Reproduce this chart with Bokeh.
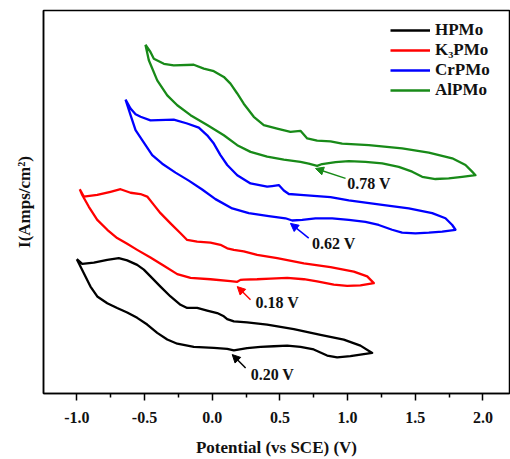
from bokeh.plotting import figure
from bokeh.models import Range1d, FixedTicker, NumeralTickFormatter, Arrow, NormalHead, ColumnDataSource
from bokeh.core.properties import value
from bokeh.embed import file_html
from bokeh.resources import INLINE

# ---------------- data (potential V vs SCE, current a.u.) ----------------
hpmo_fwd_v = [-1.00, -0.960, -0.874, -0.775, -0.690, -0.628, -0.554, -0.505, -0.456, -0.382, -0.308,
              -0.234, -0.185, -0.111, -0.037, 0.037, 0.086, 0.111, 0.160, 0.258, 0.406, 0.603, 0.800,
              0.972, 1.095, 1.182]
hpmo_fwd_i = [4.21, 4.06, 4.10, 4.19, 4.24, 4.17, 4.03, 3.88, 3.67, 3.35, 3.04, 2.78, 2.68, 2.68, 2.60,
              2.52, 2.42, 2.33, 2.26, 2.23, 2.16, 2.02, 1.84, 1.69, 1.50, 1.27]
hpmo_rev_v = [1.095, 1.021, 0.923, 0.849, 0.750, 0.652, 0.554, 0.455, 0.357, 0.258, 0.160, 0.111, 0.012,
              -0.136, -0.258, -0.332, -0.406, -0.480, -0.554, -0.628, -0.702, -0.775, -0.849, -0.899,
              -0.948, -0.985, -1.00]
hpmo_rev_i = [1.22, 1.17, 1.13, 1.19, 1.38, 1.46, 1.50, 1.48, 1.46, 1.42, 1.35, 1.40, 1.43, 1.46, 1.56,
              1.69, 1.90, 2.16, 2.37, 2.54, 2.68, 2.83, 3.04, 3.35, 3.77, 4.08, 4.21]

k3pmo_fwd_v = [-0.978, -0.948, -0.849, -0.751, -0.677, -0.603, -0.530, -0.480, -0.431, -0.382, -0.308,
               -0.234, -0.185, -0.111, -0.013, 0.061, 0.111, 0.160, 0.233, 0.332, 0.480, 0.677, 0.874,
               1.046, 1.145, 1.194]
k3pmo_fwd_i = [6.40, 6.17, 6.22, 6.32, 6.40, 6.29, 6.25, 6.17, 5.91, 5.65, 5.33, 5.02, 4.81, 4.76, 4.73,
               4.66, 4.55, 4.50, 4.45, 4.34, 4.24, 4.08, 3.96, 3.82, 3.67, 3.46]
k3pmo_rev_v = [1.095, 0.997, 0.898, 0.775, 0.677, 0.554, 0.431, 0.332, 0.233, 0.209, 0.185, 0.135,
               -0.013, -0.160, -0.258, -0.357, -0.456, -0.554, -0.628, -0.702, -0.775, -0.849, -0.911,
               -0.960, -0.978]
k3pmo_rev_i = [3.39, 3.37, 3.41, 3.51, 3.58, 3.62, 3.60, 3.58, 3.57, 3.56, 3.50, 3.52, 3.58, 3.62, 3.74,
               4.00, 4.26, 4.50, 4.69, 4.87, 5.13, 5.44, 5.85, 6.22, 6.40]

crpmo_fwd_v = [-0.640, -0.603, -0.566, -0.529, -0.456, -0.284, -0.185, -0.099, -0.037, 0.012, 0.061,
               0.111, 0.185, 0.283, 0.406, 0.443, 0.492, 0.529, 0.566, 0.652, 0.874, 1.009, 1.256,
               1.452, 1.625, 1.723, 1.773, 1.797]
crpmo_fwd_i = [9.21, 8.93, 8.75, 8.67, 8.56, 8.58, 8.46, 8.33, 8.09, 7.83, 7.47, 7.16, 6.84, 6.58, 6.48,
               6.50, 6.53, 6.36, 6.25, 6.22, 6.15, 6.05, 5.91, 5.80, 5.65, 5.49, 5.28, 5.13]
crpmo_rev_v = [1.699, 1.600, 1.501, 1.403, 1.329, 1.230, 1.132, 1.009, 0.886, 0.763, 0.665, 0.591, 0.541,
               0.418, 0.270, 0.148, 0.024, -0.074, -0.173, -0.271, -0.369, -0.443, -0.517, -0.566,
               -0.603, -0.640]
crpmo_rev_i = [5.07, 5.04, 5.02, 5.04, 5.13, 5.28, 5.38, 5.44, 5.49, 5.49, 5.44, 5.42, 5.49, 5.56, 5.65,
               5.80, 6.09, 6.39, 6.67, 6.92, 7.20, 7.47, 7.94, 8.25, 8.72, 9.21]

alpmo_fwd_v = [-0.493, -0.456, -0.431, -0.357, -0.284, -0.136, -0.062, 0.012, 0.086, 0.135, 0.185,
               0.233, 0.307, 0.381, 0.480, 0.578, 0.652, 0.702, 0.775, 0.874, 0.960, 1.157, 1.403,
               1.600, 1.773, 1.871, 1.920, 1.945]
alpmo_fwd_i = [10.93, 10.70, 10.49, 10.33, 10.28, 10.30, 10.18, 10.10, 9.92, 9.71, 9.40, 9.08, 8.67,
               8.41, 8.30, 8.20, 8.23, 7.99, 7.92, 7.90, 7.83, 7.78, 7.68, 7.55, 7.37, 7.16, 6.95, 6.84]
alpmo_rev_v = [1.846, 1.747, 1.649, 1.551, 1.477, 1.378, 1.256, 1.132, 1.009, 0.911, 0.812, 0.775, 0.713,
               0.652, 0.529, 0.406, 0.283, 0.185, 0.086, -0.037, -0.160, -0.258, -0.332, -0.406,
               -0.468, -0.493]
alpmo_rev_i = [6.79, 6.74, 6.72, 6.79, 6.95, 7.10, 7.21, 7.26, 7.28, 7.25, 7.19, 7.13, 7.20, 7.26, 7.33,
               7.42, 7.57, 7.78, 8.09, 8.41, 8.72, 9.03, 9.34, 9.81, 10.44, 10.93]

series_names = ["HPMo", "K\u2083PMo", "CrPMo", "AlPMo"]
series_colors = ["#000000", "#ff0000", "#0000ff", "#188a18"]

# annotations: peak labels, arrow tail and head
ann_labels = ["0.20 V", "0.18 V", "0.62 V", "0.78 V"]
ann_text_v = [0.284, 0.32, 0.738, 0.997]
ann_text_i = [0.59, 2.84, 4.69, 6.59]
ann_tail_v = [0.247, 0.283, 0.713, 0.985]
ann_tail_i = [0.80, 2.94, 4.87, 6.74]
ann_head_v = [0.148, 0.185, 0.578, 0.763]
ann_head_i = [1.22, 3.35, 5.33, 7.05]

x_ticks = [-1.0, -0.5, 0.0, 0.5, 1.0, 1.5, 2.0]
x_minor = [-0.75, -0.25, 0.25, 0.75, 1.25, 1.75]

FONT = "Liberation Serif"

p = figure(width=510, height=459, output_backend="svg", toolbar_location=None,
           x_range=Range1d(-1.246, 2.196), y_range=Range1d(0, 12),
           min_border_left=43, min_border_right=1, min_border_top=10, min_border_bottom=65)
p.background_fill_color = "white"
p.border_fill_color = "white"
p.xgrid.visible = False
p.ygrid.visible = False
p.outline_line_color = "black"
p.outline_line_width = 1.5

loops = [
    (hpmo_fwd_v, hpmo_fwd_i, hpmo_rev_v, hpmo_rev_i),
    (k3pmo_fwd_v, k3pmo_fwd_i, k3pmo_rev_v, k3pmo_rev_i),
    (crpmo_fwd_v, crpmo_fwd_i, crpmo_rev_v, crpmo_rev_i),
    (alpmo_fwd_v, alpmo_fwd_i, alpmo_rev_v, alpmo_rev_i),
]
for (fv, fi, rv, ri), name, col in zip(loops, series_names, series_colors):
    p.line(fv + rv, fi + ri, line_color=col, line_width=2.3, line_join="round", legend_label=name)

# annotations
for lab, tv, ti, xv, xi, hv, hi, col in zip(ann_labels, ann_text_v, ann_text_i, ann_tail_v, ann_tail_i,
                                            ann_head_v, ann_head_i, series_colors):
    p.add_layout(Arrow(end=NormalHead(size=8, fill_color=col, line_color=col, line_width=1),
                       x_start=xv, y_start=xi, x_end=hv, y_end=hi,
                       line_color=col, line_width=1.5))
src = ColumnDataSource(dict(x=ann_text_v, y=ann_text_i, t=ann_labels))
p.text(x="x", y="y", text="t", source=src, text_font=value(FONT), text_font_style="bold",
       text_font_size="16px", text_baseline="middle", text_align="left", text_color="#111111")

# axes
p.xaxis.ticker = FixedTicker(ticks=x_ticks, minor_ticks=x_minor)
p.xaxis.formatter = NumeralTickFormatter(format="0.0")
p.xaxis.axis_label = "Potential (vs SCE) (V)"
p.yaxis.ticker = FixedTicker(ticks=[])
p.yaxis.axis_label = "I(Amps/cm\u00b2)"
for ax in (p.xaxis[0], p.yaxis[0]):
    ax.axis_line_width = 1.5
    ax.axis_line_color = "black"
    ax.major_tick_line_width = 1.5
    ax.minor_tick_line_width = 1.5
    ax.major_tick_in = 0
    ax.minor_tick_in = 0
    ax.major_tick_out = 7
    ax.minor_tick_out = 4
    ax.major_label_text_font = FONT
    ax.major_label_text_font_style = "bold"
    ax.major_label_text_font_size = "16px"
    ax.major_label_text_color = "#111111"
    ax.axis_label_text_font = FONT
    ax.axis_label_text_font_style = "bold"
    ax.axis_label_text_font_size = "17px"
    ax.axis_label_text_color = "#111111"
p.xaxis.major_label_standoff = 11
p.xaxis.axis_label_standoff = 12
p.yaxis.axis_label_standoff = 10

# legend
lg = p.legend[0]
lg.location = (347, 293)
lg.border_line_color = None
lg.background_fill_alpha = 0
lg.label_text_font = FONT
lg.label_text_font_style = "bold"
lg.label_text_font_size = "17px"
lg.label_text_color = "#111111"
lg.glyph_width = 40
lg.glyph_height = 20
lg.label_height = 20
lg.spacing = 0
lg.padding = 6
lg.margin = 0
lg.label_standoff = 5
lg.label_text_baseline = "middle"

open("out.html", "w").write(file_html(p, INLINE))
